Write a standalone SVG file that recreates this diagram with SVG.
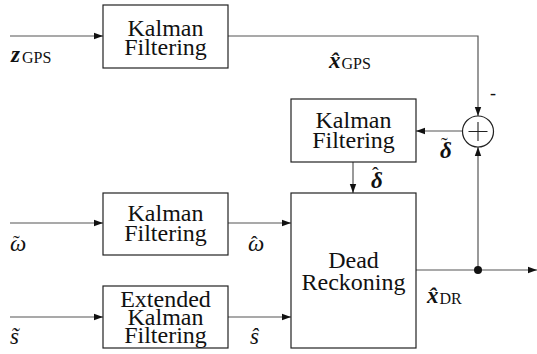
<svg xmlns="http://www.w3.org/2000/svg" width="537" height="354" viewBox="0 0 537 354">
<style>
.box{fill:#fff;stroke:#222;stroke-width:1.2}
.ln{fill:none;stroke:#555;stroke-width:1.2}
text{font-family:'Liberation Serif','Times New Roman',Tinos,'DejaVu Serif',serif;fill:#111}
.t{font-size:24px;text-anchor:middle}
.m{font-style:italic;font-size:23px}
.mb{font-style:italic;font-weight:bold;font-size:23px}
.sub{font-size:16px;font-style:normal;font-weight:normal}
.acc{font-style:normal;font-weight:normal;font-size:20px}
</style>
<defs>
<marker id="ar" markerWidth="10" markerHeight="8" refX="9" refY="4" orient="auto" markerUnits="userSpaceOnUse">
<path d="M0,0.8 L9,4 L0,7.2 Z" fill="#111"/>
</marker>
</defs>
<g id="connectors">
<line class="ln" x1="10" y1="36" x2="103" y2="36" marker-end="url(#ar)"/>
<polyline class="ln" points="228,36 478,36 478,116" marker-end="url(#ar)"/>
<line class="ln" x1="462" y1="131" x2="416" y2="131" marker-end="url(#ar)"/>
<line class="ln" x1="353" y1="162" x2="353" y2="193" marker-end="url(#ar)"/>
<line class="ln" x1="10" y1="223" x2="103" y2="223" marker-end="url(#ar)"/>
<line class="ln" x1="228" y1="223" x2="291" y2="223" marker-end="url(#ar)"/>
<line class="ln" x1="10" y1="317" x2="103" y2="317" marker-end="url(#ar)"/>
<line class="ln" x1="228" y1="317" x2="291" y2="317" marker-end="url(#ar)"/>
<line class="ln" x1="416" y1="270" x2="537" y2="270" marker-end="url(#ar)"/>
<line class="ln" x1="478" y1="270" x2="478" y2="147" marker-end="url(#ar)"/>
<circle cx="478" cy="270" r="4" fill="#111"/>
</g>
<g id="kf-gps">
<rect class="box" x="103" y="5" width="125" height="63"/>
<text class="t" x="165.5" y="36">Kalman</text>
<text class="t" x="165.5" y="55">Filtering</text>
</g>
<g id="kf-delta">
<rect class="box" x="291" y="99" width="125" height="63"/>
<text class="t" x="353.5" y="128">Kalman</text>
<text class="t" x="353.5" y="148">Filtering</text>
</g>
<g id="sum">
<circle cx="478" cy="131.5" r="15.5" fill="#fff" stroke="#222" stroke-width="1.2"/>
<path d="M478,122 V141 M468.5,131.5 H487.5" stroke="#222" stroke-width="1.1" fill="none"/>
</g>
<g id="kf-omega">
<rect class="box" x="103" y="193" width="125" height="62"/>
<text class="t" x="165.5" y="221">Kalman</text>
<text class="t" x="165.5" y="241">Filtering</text>
</g>
<g id="ekf-s">
<rect class="box" x="103" y="286" width="125" height="62"/>
<text class="t" x="165.5" y="307">Extended</text>
<text class="t" x="165.5" y="325">Kalman</text>
<text class="t" x="165.5" y="343">Filtering</text>
</g>
<g id="dr">
<rect class="box" x="291" y="193" width="125" height="155"/>
<text class="t" x="353.5" y="268">Dead</text>
<text class="t" x="353.5" y="290">Reckoning</text>
</g>
<g id="labels">
<text x="11" y="62"><tspan class="mb">z</tspan><tspan class="sub" dx="2" dy="1">GPS</tspan></text>
<text x="329" y="68"><tspan class="mb">x̂</tspan><tspan class="sub" dx="1" dy="1">GPS</tspan></text>
<text class="sub" x="490" y="99" style="font-size:18px">-</text>
<text x="440" y="158"><tspan class="mb">δ</tspan><tspan class="acc" x="441" dy="-6">˜</tspan></text>
<text x="371" y="188"><tspan class="mb">δ</tspan><tspan class="acc" x="372" dy="-6">ˆ</tspan></text>
<text x="427" y="303"><tspan class="mb">x̂</tspan><tspan class="sub" dx="1" dy="1">DR</tspan></text>
<text x="10" y="251"><tspan class="m">ω</tspan><tspan class="acc" x="13" dy="-1">˜</tspan></text>
<text x="248" y="251"><tspan class="m">ω</tspan><tspan class="acc" x="251" dy="0">ˆ</tspan></text>
<text class="m" x="10" y="344">s̃</text>
<text class="m" x="250" y="344">ŝ</text>
</g>
</svg>
